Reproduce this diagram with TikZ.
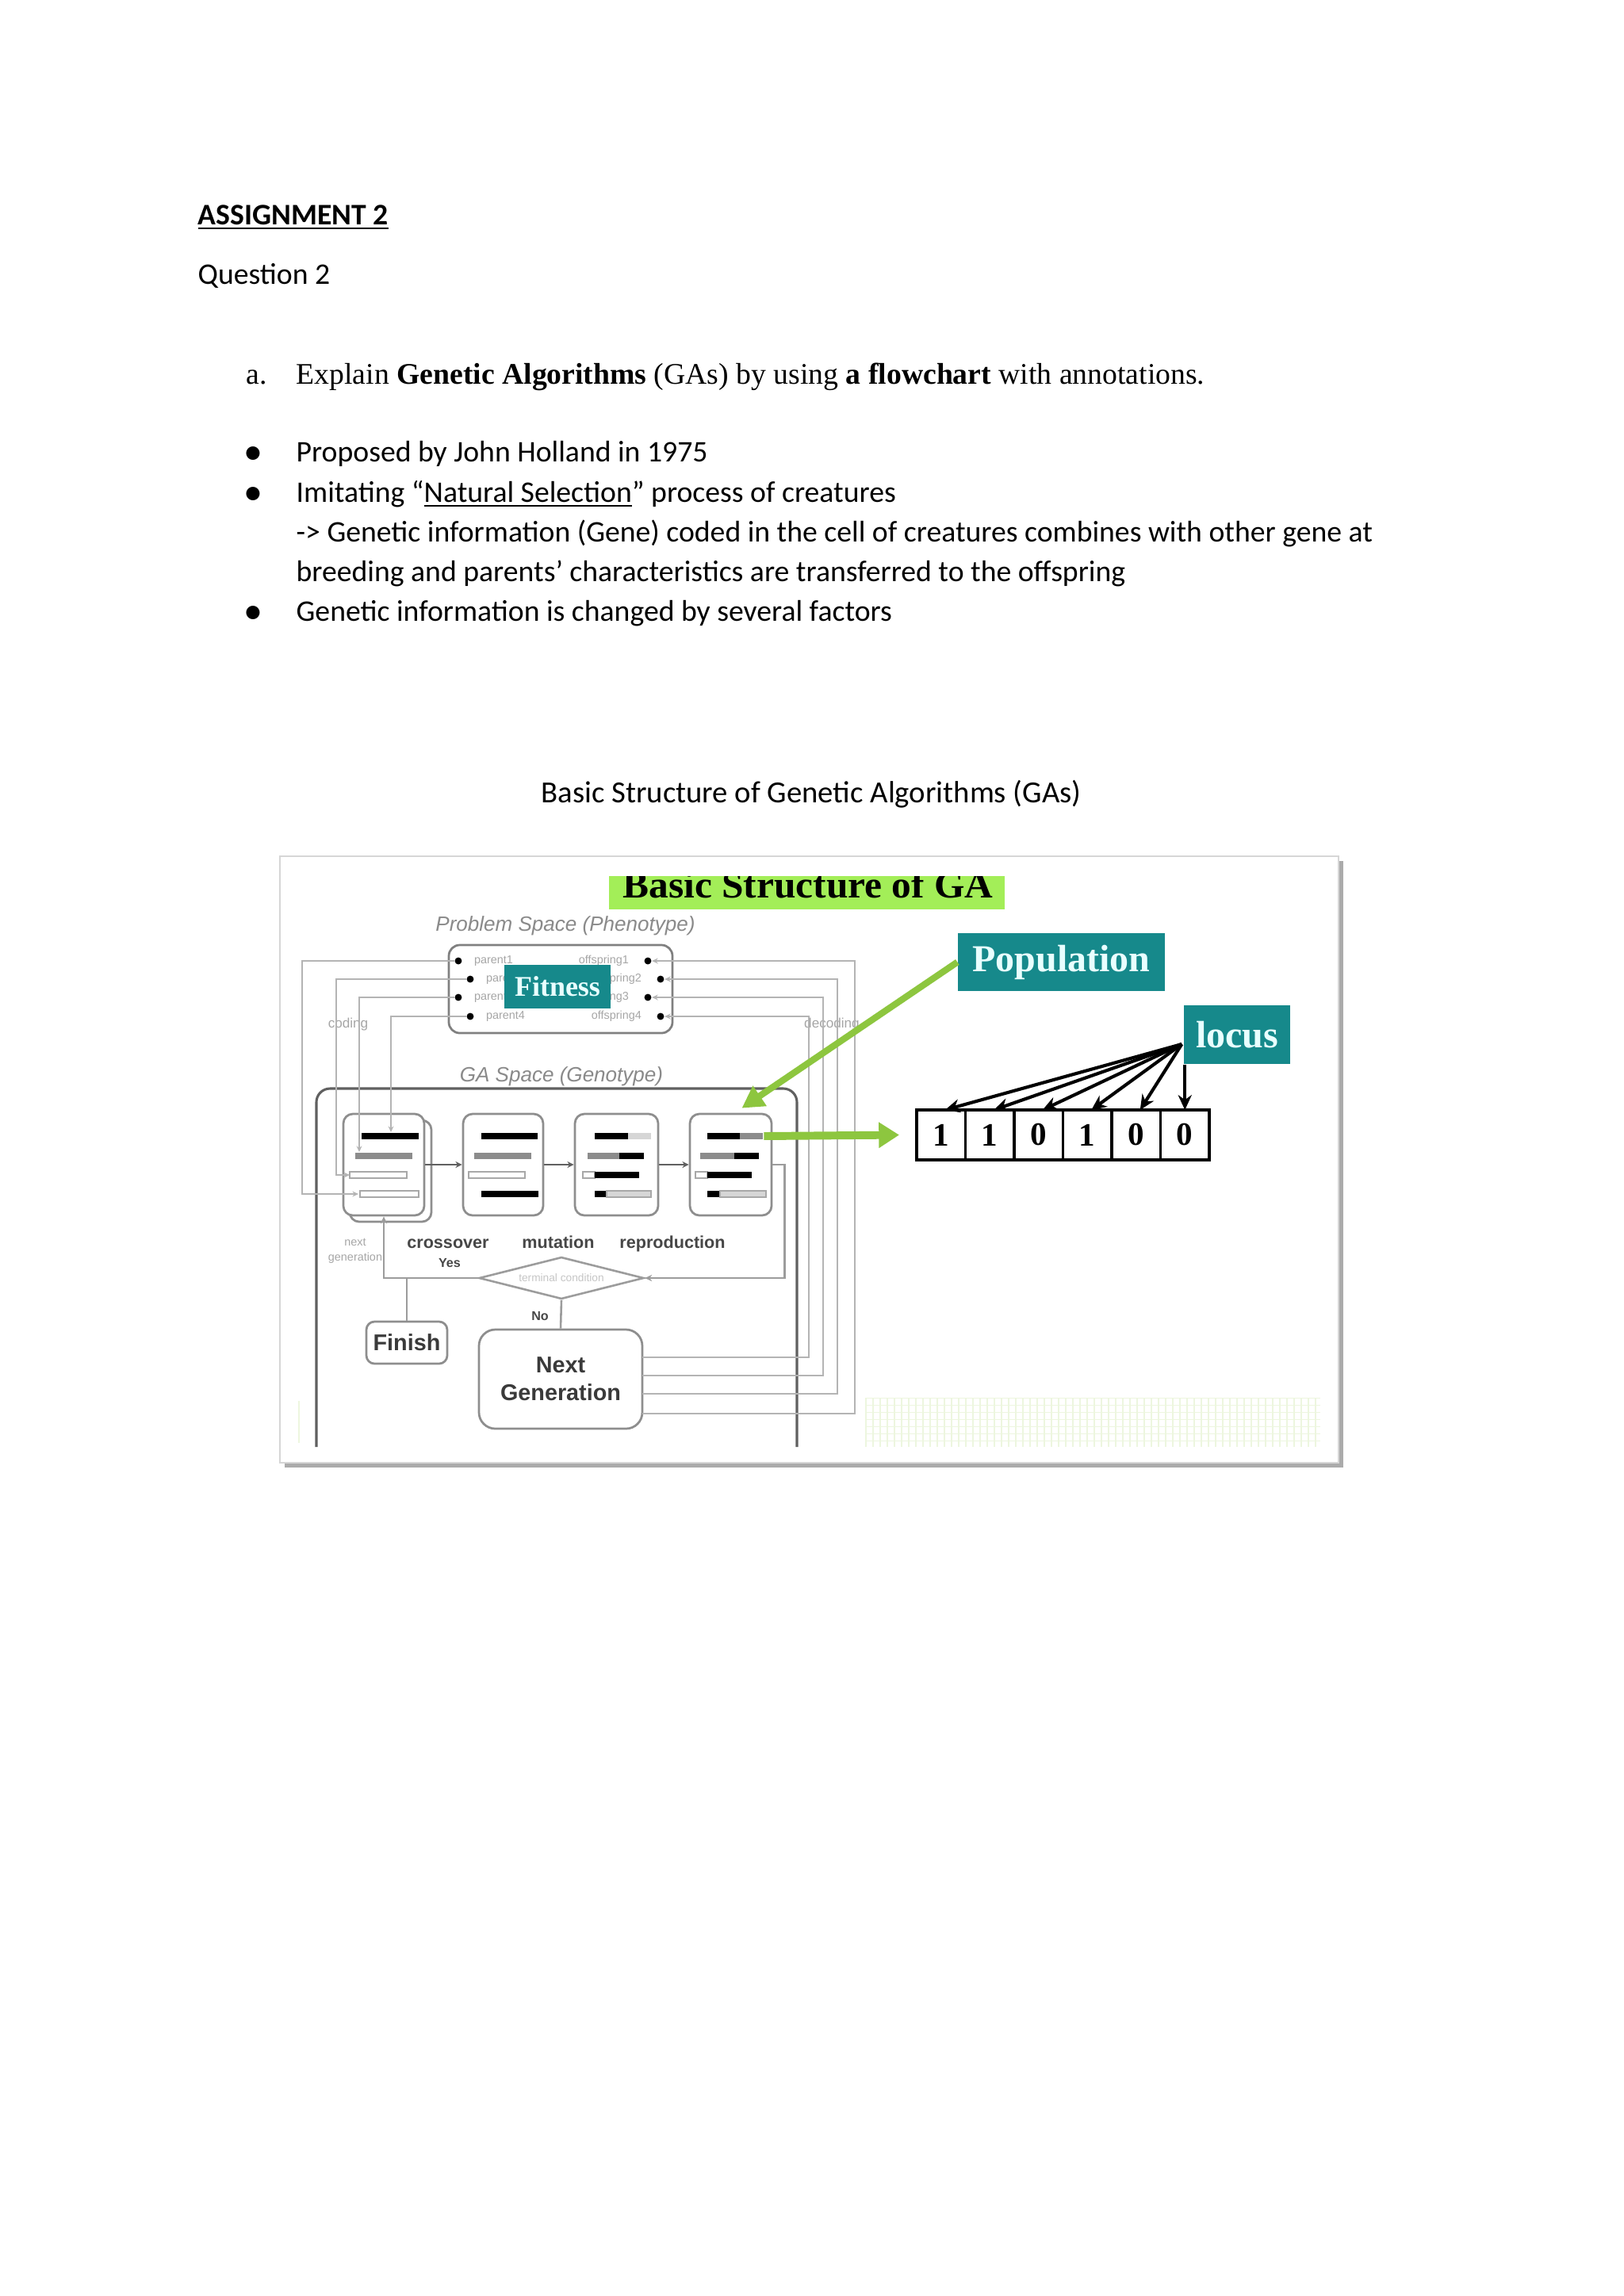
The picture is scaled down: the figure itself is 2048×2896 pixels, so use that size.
\documentclass[tikz,border=0pt]{standalone}
\usepackage{fontspec}
\setmainfont{Carlito}
\newfontfamily\serifface{Liberation Serif}
\newfontfamily\sansface{Liberation Sans}
\usetikzlibrary{arrows.meta, positioning, fit, calc, shapes.geometric}
\definecolor{tealbox}{HTML}{16898B}
\definecolor{tealtext}{HTML}{E8FFFF}
\definecolor{lime}{HTML}{8DC63F}
\definecolor{limebar}{HTML}{A3EE58}
\definecolor{wire}{HTML}{B4B4B4}
\definecolor{loopgray}{HTML}{9C9C9C}
\definecolor{boxline}{HTML}{8E8E8E}
\definecolor{darkline}{HTML}{606060}
\definecolor{inkgray}{HTML}{3A3A3A}
\definecolor{oplabelgray}{HTML}{474747}
\definecolor{spacegray}{HTML}{8A8A8A}
\definecolor{faintlabel}{HTML}{A6A6A6}
\definecolor{condtext}{HTML}{C6C6C6}
\definecolor{chromgray}{HTML}{8C8C8C}
\definecolor{lightbar}{HTML}{D6D6D6}
\definecolor{barline}{HTML}{A8A8A8}
\definecolor{gridgreen}{HTML}{EDF6DF}
\definecolor{framegray}{HTML}{D6D6D6}
\definecolor{shadowgray}{HTML}{ABABAB}
\newcommand{\pxu}{0.10254mm}
\tikzset{
  bodytext/.style={anchor=base west, inner sep=0pt, font=\fontsize{11}{13.4}\selectfont},
  tealbox/.style={fill=tealbox, text=tealtext, inner sep=0pt, font=\serifface\bfseries},
  chrom/.style={draw=boxline, line width=0.8pt, rounded corners=3.5pt, fill=white, inner sep=0pt},
  flowbox/.style={
    draw=boxline, line width=0.8pt, fill=white, inner sep=0pt,
    font=\sansface\bfseries\fontsize{8.4}{10.2}\selectfont, text=inkgray, align=center,
  },
  pindot/.style={circle, fill=black, inner sep=0pt, minimum size=2.6pt},
  wire/.style={draw=wire, line width=0.45pt},
  loopline/.style={draw=loopgray, line width=0.75pt},
  flow/.style={-{Stealth[length=2.4pt, width=2.4pt]}, draw=darkline, line width=0.6pt},
  limearrow/.style={draw=lime, -{Triangle[length=8pt, width=8.5pt]}},
  locusarrow/.style={-{Stealth[length=5.5pt, width=5pt]}, line width=1.2pt, draw=black},
  cell/.style={
    draw=black, line width=1.1pt, minimum width=61.5*\pxu, minimum height=63*\pxu,
    inner sep=0pt, outer sep=0pt, font=\serifface\bfseries\fontsize{12}{14}\selectfont,
  },
  oplabel/.style={font=\sansface\bfseries\fontsize{6.3}{7.5}\selectfont, text=oplabelgray},
  tinylabel/.style={font=\sansface\fontsize{4.2}{5}\selectfont, text=faintlabel},
  spacelabel/.style={font=\sansface\itshape\fontsize{7.6}{9}\selectfont, text=spacegray},
}
\newcommand{\genebar}[4]{\fill[#4] (#1,#3-4) rectangle (#2,#3+4);}

\begin{document}
\begin{tikzpicture}[x=0.10254mm, y=-0.10254mm]
  \useasboundingbox (0,0) rectangle (2048,2896);

  % page text
  \node[bodytext, font=\fontsize{11}{13.4}\selectfont\bfseries] (hdr) at (249,283) {\underline{ASSIGNMENT 2}};
  \node[bodytext] (qno) at (249,358) {Question 2};
  \node[bodytext, font=\serifface\fontsize{11}{13.4}\selectfont] (qa) at (310,484) {a.};
  \node[bodytext, font=\serifface\fontsize{11}{13.4}\selectfont] (qtext) at (373,484)
    {Explain \textbf{Genetic Algorithms} (GAs) by using \textbf{a flowchart} with annotations.};
  \foreach \by in {582,633,783}
    \node[anchor=base, inner sep=0pt, font=\fontsize{14}{14}\selectfont] at (319,\by+3) {\textbullet};
  \node[bodytext] (pt1) at (373,582) {Proposed by John Holland in 1975};
  \node[bodytext] (pt2) at (373,633) {Imitating “\underline{Natural Selection}” process of creatures};
  \node[bodytext] (pt2a) at (373,683) {-> Genetic information (Gene) coded in the cell of creatures combines with other gene at};
  \node[bodytext] (pt2b) at (373,733) {breeding and parents’ characteristics are transferred to the offspring};
  \node[bodytext] (pt3) at (373,783) {Genetic information is changed by several factors};
  \node[anchor=base, inner sep=0pt, font=\fontsize{11.3}{13.4}\selectfont] (caption) at (1023,1012) {Basic Structure of Genetic Algorithms (GAs)};

  % picture frame
  \fill[shadowgray] (359,1086) rectangle (1694,1851);
  \node[fit={(353,1080) (1688,1845)}, draw=framegray, fill=white, inner sep=0pt, line width=0.6pt] (frame) {};

  % title banner
  \begin{scope}
    \clip (768,1105) rectangle (1267,1148);
    \node[fit={(768,1105) (1267,1147)}, fill=limebar, inner sep=0pt] (banner) {};
    \node[anchor=base, inner sep=0pt, font=\serifface\bfseries\fontsize{14}{16}\selectfont] (gatitle) at (1019,1132)
      {\scalebox{1.03}[1]{Basic Structure of GA}};
  \end{scope}

  % problem space
  \node[spacelabel, anchor=base] (pslabel) at (713,1174) {Problem Space (Phenotype)};
  \node[fit={(566,1192) (848,1303)}, draw=darkline!80, line width=0.8pt, rounded corners=4pt, inner sep=0pt] (pheno) {};
  \foreach \i/\x/\y in {1/578/1212, 2/593/1235, 3/578/1258, 4/593/1282} {
    \node[pindot] (p\i) at (\x,\y) {};
    \node[tinylabel, anchor=west] at (\x+8,\y) {parent\i};
  }
  \foreach \i/\x/\y in {1/817/1212, 2/833/1235, 3/817/1258, 4/833/1282} {
    \node[pindot] (o\i) at (\x,\y) {};
    \node[tinylabel, anchor=east] at (\x-12,\y) {offspring\i};
  }
  \node[tealbox, minimum width=134*\pxu, minimum height=55*\pxu, font=\serifface\bfseries\fontsize{10.5}{12}\selectfont] (fitness) at (703,1244.5) {Fitness};
  \node[tinylabel, font=\sansface\fontsize{5}{6}\selectfont] (coding) at (439,1292) {coding};
  \node[tinylabel, font=\sansface\fontsize{5}{6}\selectfont] (decoding) at (1049,1292) {decoding};

  % GA space
  \node[spacelabel, anchor=base] (gslabel) at (708,1364) {GA Space (Genotype)};
  \draw[darkline, line width=0.9pt, rounded corners=5pt] (399,1825) -- (399,1373) -- (1005,1373) -- (1005,1825);

  \node[chrom, fit={(441,1413) (544,1541)}] (c1back) {};
  \node[chrom, fit={(433,1405) (535,1533)}] (c1) {};
  \node[chrom, fit={(584,1405) (685,1533)}] (c2) {};
  \node[chrom, fit={(725,1405) (830,1533)}] (c3) {};
  \node[chrom, fit={(870,1405) (973,1533)}] (c4) {};

  % genes
  \genebar{456}{528}{1433}{black}
  \genebar{448}{520}{1458}{chromgray}
  \genebar{441}{513}{1482}{white, draw=barline}
  \genebar{454}{528}{1506}{white, draw=barline}
  \genebar{607}{678}{1433}{black}
  \genebar{598}{670}{1458}{chromgray}
  \genebar{591}{662}{1482}{white, draw=barline}
  \genebar{607}{679}{1506}{black}
  \genebar{750}{792}{1433}{black}\genebar{792}{821}{1433}{lightbar}
  \genebar{741}{781}{1458}{chromgray}\genebar{781}{812}{1458}{black}
  \genebar{735}{750}{1482}{white, draw=barline}\genebar{750}{806}{1482}{black}
  \genebar{750}{765}{1506}{black}\genebar{765}{821}{1506}{lightbar, draw=barline}
  \genebar{892}{933}{1433}{black}\genebar{933}{962}{1433}{chromgray}
  \genebar{883}{926}{1458}{chromgray}\genebar{926}{957}{1458}{black}
  \genebar{877}{892}{1482}{white, draw=barline}\genebar{892}{948}{1482}{black}
  \genebar{892}{908}{1506}{black}\genebar{908}{966}{1506}{lightbar, draw=barline}

  \draw[flow] (c1) -- (c2);
  \draw[flow] (c2) -- (c3);
  \draw[flow] (c3) -- (c4);

  \node[oplabel, anchor=base] (lcross) at (565,1574) {crossover};
  \node[oplabel, anchor=base] (lmut) at (704,1574) {mutation};
  \node[oplabel, anchor=base] (lrep) at (848,1574) {reproduction};
  \node[tinylabel, align=center, font=\sansface\fontsize{4.2}{5.6}\selectfont] (nextgen) at (448,1578) {next\\generation};

  % coding wires
  \coordinate (in1) at (493,1428);
  \coordinate (in2) at (453,1453);
  \coordinate (in3) at (441,1482);
  \coordinate (in4) at (452,1506);
  \draw[wire, -{Stealth[length=2.2pt, width=2pt]}] (p1) -- ++(-197,0) |- (in4);
  \draw[wire, -{Stealth[length=2.2pt, width=2pt]}] (p2) -- ++(-169,0) |- (in3);
  \draw[wire, -{Stealth[length=2.2pt, width=2pt]}] (p3) -| (in2);
  \draw[wire, -{Stealth[length=2.2pt, width=2pt]}] (p4) -| (in1);

  % termination
  \node[diamond, draw=loopgray, line width=0.75pt, aspect=3.9, minimum width=208*\pxu,
    minimum height=53*\pxu, inner sep=0pt, text=condtext, font=\sansface\fontsize{4}{5}\selectfont] (cond) at (708,1612) {terminal condition};
  \node[flowbox, rounded corners=3pt, minimum width=102*\pxu, minimum height=53*\pxu] (finish) at (513,1693.5) {Finish};
  \node[flowbox, rounded corners=6pt, minimum width=206*\pxu, minimum height=125*\pxu] (ng) at (707,1739.5) {Next\\Generation};
  \node[oplabel, font=\sansface\bfseries\fontsize{4.7}{6}\selectfont] (yes) at (567,1593) {Yes};
  \node[oplabel, font=\sansface\bfseries\fontsize{4.7}{6}\selectfont] (no) at (681,1660) {No};

  \coordinate (yesjoint) at (finish.north |- cond.west);
  \draw[loopline, -{Stealth[length=2.6pt, width=2.4pt]}] (cond.west) -| (c1.south);
  \draw[loopline] (yesjoint) -- (finish.north);
  \draw[loopline] (cond.south) -- (ng.north);
  \draw[loopline, -{Stealth[length=2.6pt, width=2.4pt]}] (c4.east) -- ++(15,0) |- (cond.east);

  % decoding wires
  \coordinate (ng1) at (810,1712);
  \coordinate (ng2) at (810,1735);
  \coordinate (ng3) at (810,1758);
  \coordinate (ng4) at (810,1783);
  \draw[wire, -{Stealth[length=2.2pt, width=2pt]}] (ng1) -- ++(210,0) |- (o4);
  \draw[wire, -{Stealth[length=2.2pt, width=2pt]}] (ng2) -- ++(228,0) |- (o3);
  \draw[wire, -{Stealth[length=2.2pt, width=2pt]}] (ng3) -- ++(246,0) |- (o2);
  \draw[wire, -{Stealth[length=2.2pt, width=2pt]}] (ng4) -- ++(268,0) |- (o1);

  % annotations
  \node[tealbox, minimum width=261*\pxu, minimum height=73*\pxu, font=\serifface\bfseries\fontsize{14}{16}\selectfont] (pop) at (1338.5,1213.5) {Population};
  \node[tealbox, minimum width=134*\pxu, minimum height=74*\pxu, font=\serifface\bfseries\fontsize{14}{16}\selectfont] (locus) at (1560,1305) {locus};

  \node[cell] (b1) at (1186.75,1431.5) {1};
  \node[cell, right=0pt of b1] (b2) {1};
  \node[cell, right=0pt of b2] (b3) {0};
  \node[cell, right=0pt of b3] (b4) {1};
  \node[cell, right=0pt of b4] (b5) {0};
  \node[cell, right=0pt of b5] (b6) {0};

  \coordinate (fan) at ($(locus.west)+(-2,12)$);
  \foreach \i in {1,...,5}
    \draw[locusarrow] (fan) -- ($(b\i.north)+(5,0)$);
  \draw[locusarrow] (b6.north |- locus.south) -- (b6.north);

  \draw[limearrow, line width=2.4pt] (pop.west) -- ($(c4.north)+(14,-6)$);
  \draw[limearrow, line width=2.9pt, -{Triangle[length=7.5pt, width=9pt]}] ($(c4.east)+(-11,-36)$) -- ($(b1.west)+(-22,0)$);

  % faint grid
  \foreach \gx in {1092,1101,...,1665}
    \draw[gridgreen, line width=0.3pt] (\gx,1763) -- (\gx,1825);
  \foreach \gy in {1763,1772,...,1825}
    \draw[gridgreen, line width=0.3pt] (1092,\gy) -- (1665,\gy);
  \draw[gridgreen, line width=0.6pt] (377,1767) -- (377,1820);
\end{tikzpicture}
\end{document}
